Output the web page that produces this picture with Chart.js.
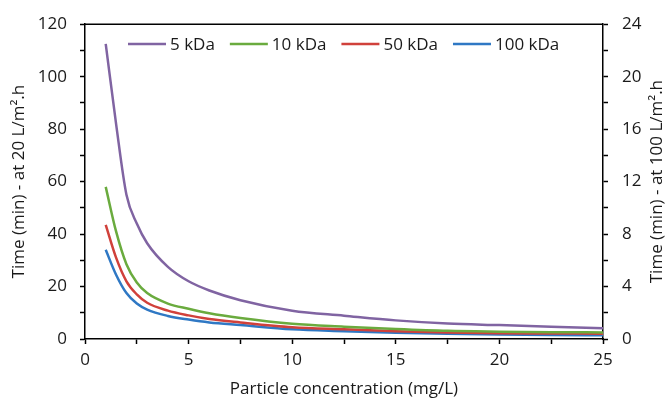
<!DOCTYPE html>
<html>
<head>
<meta charset="utf-8">
<script src="https://cdn.jsdelivr.net/npm/chart.js@4.4.0/dist/chart.umd.min.js"></script>
<style>
	html, body { margin: 0; padding: 0; background: #fff; }
	#wrap { width: 667px; height: 399px; }
</style>
</head>
<body>
<div id="wrap"><canvas id="timeChart"></canvas></div>
<script>
// concentration (mg/L)
var concList = [1, 1.5, 2, 2.5, 3, 4, 5, 6, 7.5, 10, 12.5, 15, 17.5, 20, 22.5, 25];

// time (min) at 20 L/m2.h
var kda5List   = [112.5, 82, 55, 44, 36.5, 27.5, 22, 18.5, 14.8, 10.8, 8.9, 7.1, 5.9, 5.3, 4.7, 4.1];
var kda10List  = [58, 41, 28.5, 21.5, 17.5, 13.5, 11.5, 9.8, 8, 5.8, 4.7, 3.8, 3.1, 2.8, 2.6, 2.5];
var kda50List  = [43.5, 31, 22, 17, 13.8, 10.8, 9, 7.6, 6.3, 4.5, 3.7, 3.0, 2.5, 2.2, 2.1, 2.0];
var kda100List = [34, 24.5, 17.5, 13.5, 11.2, 8.8, 7.4, 6.3, 5.3, 3.7, 3.0, 2.4, 2.0, 1.7, 1.5, 1.4];

var seriesNames = ['5 kDa', '10 kDa', '50 kDa', '100 kDa'];
var seriesColors = ['#8064a2', '#6aab3e', '#d0413b', '#2f78c4'];

var rightTitle = 'Time (min) - at 100 L/m\u00b2.h';

var fontName = "'Open Sans', 'Noto Sans', sans-serif";

function toPoints(list){
	var pts = [];
	for(var i = 0; i < concList.length; i++){
		pts.push({x: concList[i], y: list[i]});
	}
	return pts;
}

//범례 + 위쪽 테두리 + 오른쪽 축 제목
var framePlugin = {
	id: 'framePlugin',
	afterDraw: function(chart){
		var ctx = chart.ctx;
		var area = chart.chartArea;
		ctx.save();
		ctx.strokeStyle = '#000';
		ctx.lineWidth = 1.5;
		ctx.beginPath();
		ctx.moveTo(area.left, area.top);
		ctx.lineTo(area.right, area.top);
		ctx.stroke();

		ctx.font = '17px ' + fontName;
		ctx.textBaseline = 'middle';
		ctx.fillStyle = '#1a1a1a';
		var x = 128;
		var y = 44;
		chart.data.datasets.forEach(function(ds){
			ctx.strokeStyle = ds.borderColor;
			ctx.lineWidth = 2.5;
			ctx.beginPath();
			ctx.moveTo(x, y);
			ctx.lineTo(x + 38, y);
			ctx.stroke();
			x += 42;
			ctx.fillText(ds.label, x, y + 1);
			x += ctx.measureText(ds.label).width + 15;
		});

		// 오른쪽 축 제목 (아래에서 위로)
		ctx.translate(657, (area.top + area.bottom) / 2);
		ctx.rotate(-Math.PI / 2);
		ctx.textAlign = 'center';
		ctx.fillText(rightTitle, 0, 0);
		ctx.restore();
	}
};

function makeDataset(idx, list){
	return {
		label: seriesNames[idx],
		data: toPoints(list),
		borderColor: seriesColors[idx],
		backgroundColor: seriesColors[idx],
		borderWidth: 2.5,
		pointRadius: 0,
		cubicInterpolationMode: 'monotone',
		yAxisID: 'y'
	};
}

var tickFont = { family: fontName, size: 17 };
var titleFont = { family: fontName, size: 17 };

new Chart(document.getElementById('timeChart'), {
	type: 'line',
	data: {
		datasets: [
			makeDataset(0, kda5List),
			makeDataset(1, kda10List),
			makeDataset(2, kda50List),
			makeDataset(3, kda100List)
		]
	},
	options: {
		responsive: true,
		maintainAspectRatio: false,
		animation: false,
		layout: { padding: { top: 22, left: 0, right: 0, bottom: 0 } },
		plugins: {
			legend: { display: false },
			tooltip: { enabled: false }
		},
		scales: {
			x: {
				type: 'linear',
				min: 0,
				max: 25,
				afterFit: function(s){ s.height = 60; },
				border: { display: true, color: '#000', width: 1.5 },
				grid: { drawOnChartArea: false, color: '#000', tickLength: 5, tickWidth: 1.5 },
				ticks: {
					stepSize: 2.5,
					color: '#1a1a1a',
					font: tickFont,
					padding: 6,
					maxRotation: 0,
					autoSkip: false,
					callback: function(v){ return v % 5 == 0 ? v : ''; }
				},
				title: {
					display: true,
					text: 'Particle concentration (mg/L)',
					color: '#1a1a1a',
					font: titleFont,
					padding: { top: 0, bottom: 0 }
				}
			},
			y: {
				position: 'left',
				min: 0,
				max: 120,
				afterFit: function(s){ s.width = 85; },
				border: { display: true, color: '#000', width: 1.5 },
				grid: { drawOnChartArea: false, color: '#000', tickLength: 5, tickWidth: 1.5 },
				ticks: {
					stepSize: 10,
					color: '#1a1a1a',
					font: tickFont,
					padding: 13,
					autoSkip: false,
					callback: function(v){ return v % 20 == 0 ? v : ''; }
				},
				title: {
					display: true,
					text: 'Time (min) - at 20 L/m\u00b2.h',
					color: '#1a1a1a',
					font: titleFont,
					padding: { top: 9, bottom: 0 }
				}
			},
			y1: {
				position: 'right',
				min: 0,
				max: 24,
				afterFit: function(s){ s.width = 64; },
				border: { display: true, color: '#000', width: 1.5 },
				grid: { drawOnChartArea: false, color: '#000', tickLength: 5, tickWidth: 1.5 },
				ticks: {
					stepSize: 2,
					color: '#1a1a1a',
					font: tickFont,
					padding: 14,
					autoSkip: false,
					callback: function(v){ return v % 4 == 0 ? v : ''; }
				}
			}
		}
	},
	plugins: [framePlugin]
});
</script>
</body>
</html>
